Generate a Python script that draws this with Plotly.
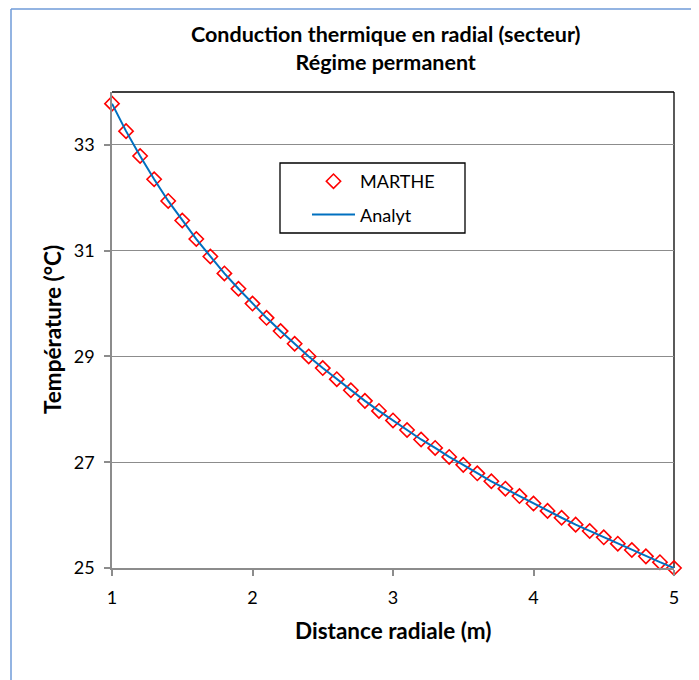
import plotly.graph_objects as go

# Data
distance = [1.0, 1.1, 1.2, 1.3, 1.4, 1.5, 1.6, 1.7, 1.8, 1.9,
            2.0, 2.1, 2.2, 2.3, 2.4, 2.5, 2.6, 2.7, 2.8, 2.9,
            3.0, 3.1, 3.2, 3.3, 3.4, 3.5, 3.6, 3.7, 3.8, 3.9,
            4.0, 4.1, 4.2, 4.3, 4.4, 4.5, 4.6, 4.7, 4.8, 4.9, 5.0]
marthe = [33.78, 33.26, 32.79, 32.35, 31.94, 31.57, 31.22, 30.89, 30.57, 30.28,
          30.00, 29.73, 29.48, 29.24, 29.00, 28.78, 28.57, 28.36, 28.16, 27.97,
          27.79, 27.61, 27.43, 27.27, 27.10, 26.95, 26.79, 26.64, 26.50, 26.36,
          26.22, 26.08, 25.95, 25.82, 25.70, 25.58, 25.46, 25.34, 25.22, 25.11, 25.00]
analyt = [33.78, 33.26, 32.79, 32.35, 31.94, 31.57, 31.22, 30.89, 30.57, 30.28,
          30.00, 29.73, 29.48, 29.24, 29.00, 28.78, 28.57, 28.36, 28.16, 27.97,
          27.79, 27.61, 27.43, 27.27, 27.10, 26.95, 26.79, 26.64, 26.50, 26.36,
          26.22, 26.08, 25.95, 25.82, 25.70, 25.58, 25.46, 25.34, 25.22, 25.11, 25.00]
x_ticks = [1, 2, 3, 4, 5]
y_ticks = [25, 27, 29, 31, 33]

FONT = "Lato"
OFF = 8  # page body margin
W, H = 699 - OFF, 680 - OFF
# plot area in page (reference) pixels
L, R, T, B = 112, 674, 92, 568
pw, ph = R - L, B - T


def px(p):
    return (p - L) / pw


def py(q):
    return (B - q) / ph


fig = go.Figure()
fig.add_trace(go.Scatter(
    x=distance, y=marthe, name="MARTHE", mode="markers", cliponaxis=False,
    marker=dict(symbol="diamond-open", size=11, color="#ff0000",
                line=dict(width=1.6, color="#ff0000")),
    legendgroup="a"))
fig.add_trace(go.Scatter(
    x=distance, y=analyt, name="Analyt", mode="lines", cliponaxis=False,
    line=dict(color="#0070c0", width=2), legendgroup="b"))

grid = "#8c8c8c"
fig.update_layout(
    width=W, height=H,
    margin=dict(l=L - OFF, r=699 - R, t=T - OFF, b=680 - B, pad=0),
    paper_bgcolor="white", plot_bgcolor="white",
    font=dict(family=FONT, color="black", size=18),
    showlegend=True,
    legend=dict(x=px(307), y=py(163), xanchor="left", yanchor="top",
                bgcolor="rgba(0,0,0,0)", borderwidth=0,
                font=dict(size=18, family=FONT, color="black"),
                itemwidth=43, tracegroupgap=7, traceorder="grouped"),
    xaxis=dict(range=[1, 5], tickvals=x_ticks, showgrid=False,
               showline=True, linecolor=grid, linewidth=1.5,
               ticks="outside", ticklen=6, tickcolor=grid, tickwidth=1.5,
               ticklabelstandoff=7, zeroline=False),
    yaxis=dict(range=[25, 34], tickvals=y_ticks, showgrid=True,
               gridcolor=grid, gridwidth=1.2,
               showline=True, linecolor=grid, linewidth=1.5,
               ticks="outside", ticklen=6, tickcolor=grid, tickwidth=1.5,
               ticklabelstandoff=6, zeroline=False),
)

# plot-area border (top and right, black)
fig.add_shape(type="line", xref="paper", yref="paper", x0=0, x1=1, y0=1, y1=1,
              line=dict(color="black", width=1.3), layer="between")
fig.add_shape(type="line", xref="paper", yref="paper", x0=1, x1=1, y0=0, y1=1,
              line=dict(color="black", width=1.3), layer="between")

# legend box
fig.add_shape(type="rect", xref="paper", yref="paper",
              x0=px(280), x1=px(465), y0=py(233), y1=py(163),
              line=dict(color="black", width=1.3), fillcolor="white", layer="between")

# chart-area border (light blue, top and left)
fig.add_shape(type="line", xref="paper", yref="paper",
              x0=px(11), x1=px(720), y0=py(9), y1=py(9),
              line=dict(color="#6f9bd8", width=1.5))
fig.add_shape(type="line", xref="paper", yref="paper",
              x0=px(11), x1=px(11), y0=py(9), y1=py(720),
              line=dict(color="#6f9bd8", width=1.5))

# titles
fig.add_annotation(xref="paper", yref="paper", x=px(386), y=py(48),
                   text="<b>Conduction thermique en radial (secteur)<br>Régime permanent</b>",
                   showarrow=False, xanchor="center", yanchor="middle",
                   font=dict(size=21.5, family=FONT, color="black"))
fig.add_annotation(xref="paper", yref="paper", x=px(393), y=py(630),
                   text="<b>Distance radiale (m)</b>",
                   showarrow=False, xanchor="center", yanchor="middle",
                   font=dict(size=22.5, family=FONT, color="black"))
fig.add_annotation(xref="paper", yref="paper", x=px(52), y=py(330),
                   text="<b>Température (°C)</b>", textangle=-90,
                   showarrow=False, xanchor="center", yanchor="middle",
                   font=dict(size=22.5, family=FONT, color="black"))

fig.write_html("out.html")
